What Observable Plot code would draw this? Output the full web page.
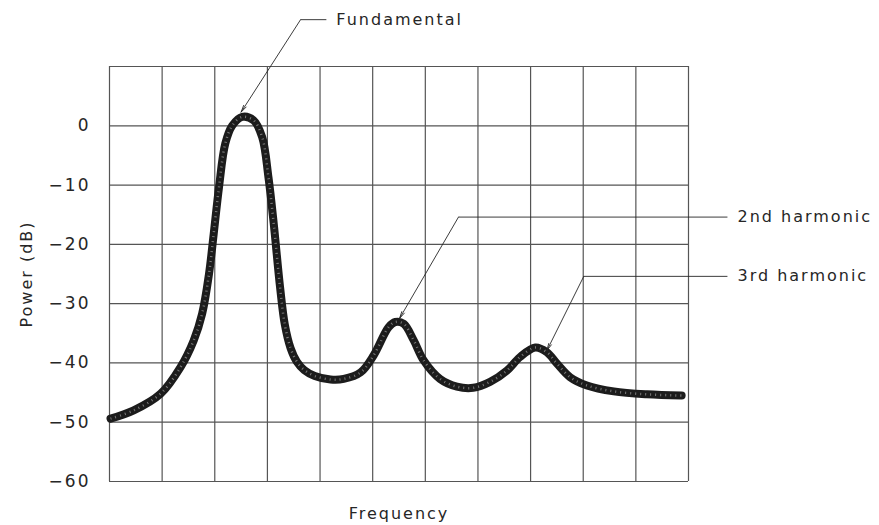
<!DOCTYPE html>
<html><head><meta charset="utf-8">
<script src="https://cdn.jsdelivr.net/npm/d3@7"></script>
<script src="https://cdn.jsdelivr.net/npm/@observablehq/plot@0.6"></script>
<style>body{margin:0;background:#fff}</style>
</head><body><div id="chart"></div>
<script>
// Curve samples (frequency in grid units, power in dB)
const frequency = [0.02, 0.46, 0.97, 1.35, 1.6, 1.76, 1.89, 1.98, 2.08, 2.2, 2.33, 2.52, 2.74, 2.9, 3.02, 3.12, 3.24, 3.33, 3.44, 3.56, 3.7, 3.9, 4.2, 4.45, 4.77, 5.02, 5.3, 5.43, 5.59, 5.78, 5.97, 6.28, 6.6, 6.91, 7.23, 7.55, 7.8, 8.09, 8.31, 8.5, 8.75, 9.07, 9.58, 10.21, 10.87];
const power     = [-49.4, -48.0, -45.2, -40.7, -36.2, -31.7, -25, -18.2, -10.4, -3.0, 0, 1.5, 0.9, -1.9, -8.7, -16.5, -27.2, -33.5, -37.5, -39.8, -41.2, -42.2, -42.8, -42.7, -41.6, -38.7, -34, -33.1, -33.4, -36.2, -39.6, -42.7, -44, -44.2, -43.2, -41.3, -39, -37.4, -38.2, -40.1, -42.4, -43.8, -44.8, -45.3, -45.5];

const yTicks = [0, -10, -20, -30, -40, -50, -60];
const xGrid = [0, 1, 2, 3, 4, 5, 6, 7, 8, 9, 10, 11];
const yGrid = [10, 0, -10, -20, -30, -40, -50, -60];

const annotationLabels = ["Fundamental", "2nd harmonic", "3rd harmonic"];
const tipFreq = [2.5, 5.51, 8.31];
const tipPower = [2.3, -32.5, -37.9];
const elbowFreq = [3.63, 6.63, 9.01];
const elbowPower = [17.9, -15.4, -25.4];
const leaderEndFreq = [4.12, 11.74, 11.74];
const labelFreq = [4.31, 11.93, 11.93];

const curve = frequency.map((f, i) => ({f, p: power[i]}));
const notes = annotationLabels.map((label, i) => ({
  label, tx: tipFreq[i], ty: tipPower[i], ex: elbowFreq[i], ey: elbowPower[i],
  lx: leaderEndFreq[i], textX: labelFreq[i]
}));

const ink = "#262626";
const chart = Plot.plot({
  width: 879, height: 525,
  marginLeft: 109, marginRight: 191, marginTop: 66, marginBottom: 44,
  x: {domain: [0, 11], axis: null},
  y: {domain: [-60, 10], axis: null},
  style: {fontFamily: "DejaVu Sans", fontSize: "16px", letterSpacing: "2px", color: ink, background: "#fff"},
  marks: [
    Plot.ruleX(xGrid, {stroke: "#555", strokeWidth: 1.2}),
    Plot.ruleY(yGrid, {stroke: "#555", strokeWidth: 1.2}),
    Plot.axisY(yTicks, {tickSize: 0, tickPadding: 19, fontSize: 17, fill: ink, label: null,
      tickFormat: d => d < 0 ? "\u2212" + Math.abs(d) : String(d)}),
    Plot.line(curve, {x: "f", y: "p", curve: "catmull-rom", stroke: "#1c1c1c", strokeWidth: 8}),
    Plot.line(curve, {x: "f", y: "p", curve: "catmull-rom", stroke: "#7a7a7a", strokeWidth: 2.5, strokeDasharray: "1 4", strokeLinecap: "butt"}),
    Plot.arrow(notes, {x1: "ex", y1: "ey", x2: "tx", y2: "ty", stroke: ink, strokeWidth: 0.9, headLength: 12, headAngle: 24}),
    Plot.link(notes, {x1: "ex", y1: "ey", x2: "lx", y2: "ey", stroke: ink, strokeWidth: 0.9, clip: false}),
    Plot.text(notes, {x: "textX", y: "ey", text: "label", textAnchor: "start", fill: ink, clip: false}),
    Plot.text(["Frequency"], {frameAnchor: "bottom", dy: 32, lineAnchor: "middle", fill: ink}),
    Plot.text(["Power (dB)"], {frameAnchor: "left", dx: -83, rotate: -90, textAnchor: "middle", lineAnchor: "middle", fill: ink})
  ]
});
document.getElementById("chart").appendChild(chart);
</script>
</body></html>
